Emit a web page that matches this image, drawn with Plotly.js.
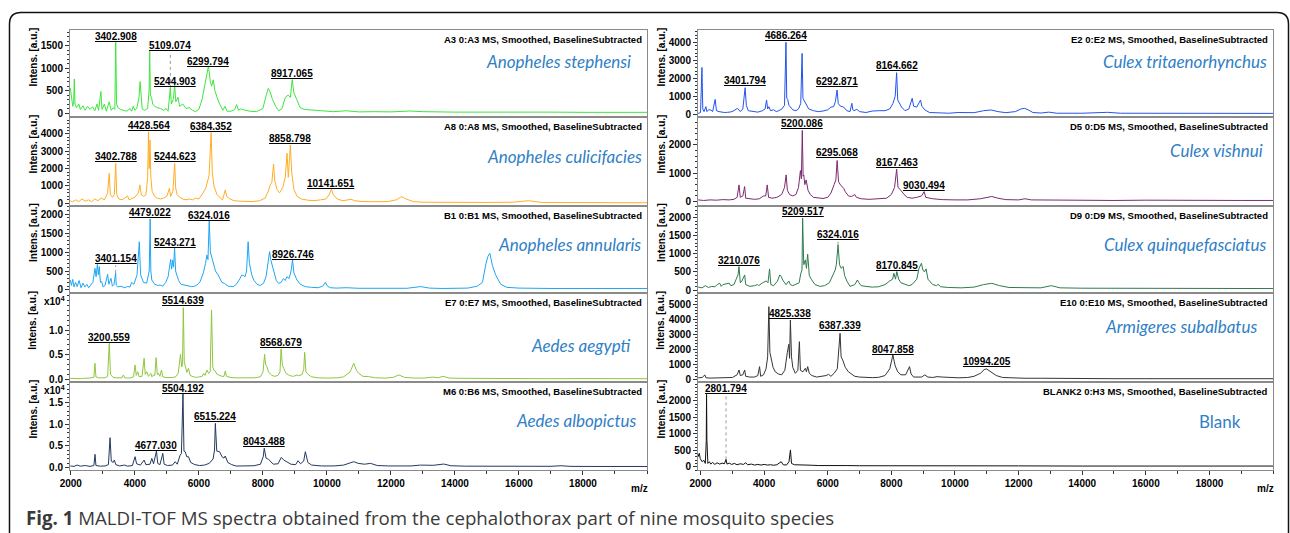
<!DOCTYPE html>
<html><head><meta charset="utf-8">
<script src="https://cdn.plot.ly/plotly-3.0.1.min.js"></script>
<style>body{margin:0;background:#fff}#chart{width:1290px;height:533px}</style>
</head><body><div id="chart"></div>
<script>
// ---------------- DATA (m/z, intensity) ----------------
const stephensi = [[1985,560],[2030,300],[2060,150],[2090,250],[2110,760],[2130,200],[2180,120],[2250,200],[2300,80],[2380,160],[2450,60],[2520,150],[2600,80],[2680,140],[2750,50],[2820,200],[2870,60],[2940,480],[2975,80],[3050,200],[3110,40],[3200,250],[3260,60],[3330,120],[3375,80],[3403,1580],[3430,200],[3470,120],[3550,80],[3650,60],[3750,40],[3850,100],[3900,40],[3950,150],[4000,60],[4060,100],[4130,350],[4165,700],[4195,300],[4230,90],[4300,60],[4400,100],[4445,500],[4465,1380],[4485,400],[4520,350],[4560,200],[4620,150],[4700,120],[4800,100],[4900,60],[4980,100],[5040,40],[5080,300],[5109,560],[5140,200],[5200,300],[5245,620],[5280,250],[5350,350],[5400,150],[5500,200],[5600,100],[5700,120],[5800,60],[5900,30],[6000,80],[6100,300],[6200,700],[6300,1050],[6360,700],[6400,600],[6450,740],[6500,500],[6570,350],[6650,200],[6750,60],[6820,150],[6880,40],[7000,40],[7120,80],[7180,190],[7240,60],[7300,90],[7400,70],[7600,40],[7800,30],[8000,100],[8110,410],[8170,550],[8230,470],[8300,300],[8400,150],[8500,50],[8600,100],[8700,350],[8790,400],[8860,350],[8917,745],[8970,450],[9060,300],[9160,120],[9300,80],[9500,70],[9800,40],[10200,30],[10600,50],[11000,25],[11500,30],[12000,25],[12600,45],[13000,30],[14000,20],[15000,25],[16000,15],[17000,20],[18000,15],[19000,20],[20000,15]];
const culicifacies = [[1985,150],[2050,80],[2150,200],[2250,100],[2350,250],[2450,120],[2550,200],[2650,100],[2750,250],[2850,150],[2950,300],[3050,200],[3150,600],[3200,1730],[3235,500],[3300,350],[3360,500],[3403,2310],[3435,500],[3500,250],[3600,200],[3700,300],[3775,420],[3820,200],[3900,250],[4000,350],[4110,600],[4160,1060],[4200,500],[4280,400],[4350,500],[4400,1500],[4429,4130],[4450,2000],[4475,3650],[4500,1500],[4540,700],[4620,400],[4700,300],[4800,250],[4900,300],[5000,400],[5080,865],[5120,400],[5190,700],[5245,2310],[5275,900],[5320,500],[5400,350],[5500,250],[5600,200],[5700,250],[5800,200],[5900,300],[6000,250],[6100,500],[6220,900],[6320,1600],[6384,4080],[6420,1800],[6470,1000],[6570,500],[6670,300],[6740,200],[6825,770],[6870,400],[6970,250],[7100,150],[7300,120],[7500,100],[7700,100],[7900,150],[8070,300],[8170,700],[8230,1060],[8280,1200],[8335,2270],[8370,1300],[8440,800],[8520,600],[8620,900],[8700,1500],[8755,2885],[8795,1500],[8859,3365],[8900,1800],[8970,800],[9070,400],[9200,250],[9400,180],[9600,150],[9800,200],[9970,250],[10070,500],[10142,810],[10200,500],[10320,250],[10500,150],[10650,200],[10755,230],[10870,150],[11100,100],[11500,90],[11900,100],[12170,200],[12330,385],[12470,250],[12700,100],[13000,60],[13500,50],[14000,60],[14500,40],[15000,50],[15800,60],[16300,150],[16700,50],[17500,50],[18000,30],[19000,40],[20000,30]];
const annularis = [[1985,260],[2020,120],[2060,280],[2100,80],[2150,200],[2200,90],[2260,250],[2320,60],[2380,180],[2440,80],[2500,150],[2560,60],[2620,130],[2690,200],[2755,570],[2790,350],[2830,675],[2860,400],[2890,614],[2925,200],[2965,220],[3010,80],[3070,120],[3150,412],[3190,150],[3255,307],[3300,100],[3350,150],[3401,450],[3420,120],[3470,80],[3570,100],[3670,60],[3770,90],[3850,80],[3900,200],[3970,150],[4070,400],[4140,1270],[4180,400],[4270,200],[4370,180],[4450,500],[4479,1870],[4500,500],[4530,263],[4620,150],[4720,120],[4790,130],[4870,100],[4965,200],[5040,350],[5120,807],[5150,550],[5185,790],[5210,600],[5243,1100],[5275,500],[5310,395],[5370,250],[5440,150],[5540,130],[5620,100],[5720,80],[5780,88],[5870,100],[5970,150],[6040,219],[6140,450],[6210,700],[6250,921],[6285,800],[6324,1845],[6360,1000],[6420,800],[6455,745],[6520,500],[6600,400],[6665,307],[6720,200],[6800,175],[6920,100],[7080,88],[7170,150],[7250,250],[7345,395],[7400,380],[7445,350],[7490,500],[7540,1270],[7580,700],[7655,395],[7720,250],[7820,150],[7920,120],[8020,175],[8100,350],[8170,700],[8210,1010],[8245,800],[8285,658],[8340,450],[8420,250],[8490,175],[8570,200],[8640,300],[8700,250],[8750,350],[8820,300],[8880,500],[8927,790],[8970,450],[9065,263],[9170,150],[9325,88],[9520,70],[9720,60],[9870,100],[9950,200],[10020,100],[10110,60],[10300,50],[10600,60],[11000,45],[11500,50],[12000,40],[12500,45],[12930,90],[13200,50],[13600,40],[14000,45],[14400,50],[14700,100],[14860,200],[14970,700],[15030,880],[15090,966],[15170,650],[15270,400],[15430,150],[15620,70],[16000,50],[17000,40],[18000,45],[19000,40],[20000,40]];
const aegypti = [[1985,200],[2100,150],[2200,250],[2300,120],[2400,200],[2500,150],[2600,250],[2720,400],[2755,3245],[2785,500],[2870,300],[2970,300],[3070,300],[3150,600],[3201,7300],[3240,1000],[3320,400],[3420,300],[3520,350],[3600,300],[3643,880],[3685,300],[3770,250],[3870,300],[3960,500],[4008,2900],[4045,800],[4092,1550],[4135,500],[4225,600],[4290,4260],[4325,1000],[4374,1550],[4425,600],[4499,1200],[4535,500],[4582,880],[4625,800],[4665,4390],[4705,900],[4738,1200],[4785,600],[4832,1890],[4875,500],[4975,350],[5075,300],[5175,350],[5275,500],[5355,1200],[5427,5070],[5465,2500],[5490,3000],[5515,14530],[5545,3500],[5573,2570],[5625,1400],[5677,2230],[5725,800],[5825,500],[5925,400],[6025,500],[6105,600],[6146,1200],[6195,800],[6251,1890],[6305,1200],[6355,1500],[6397,14060],[6435,2500],[6475,1800],[6511,1690],[6565,1000],[6616,880],[6675,700],[6725,600],[6785,600],[6825,1690],[6865,600],[6975,400],[7125,300],[7325,250],[7525,300],[7725,300],[7925,500],[8005,1500],[8055,5070],[8085,3000],[8128,2570],[8175,1500],[8275,800],[8375,600],[8475,800],[8535,1500],[8569,6150],[8610,3000],[8650,2230],[8725,1200],[8825,800],[8925,600],[9005,700],[9067,880],[9125,700],[9225,1000],[9275,2000],[9307,5475],[9345,1500],[9432,880],[9525,500],[9725,300],[10025,250],[10325,300],[10525,500],[10725,1500],[10840,3245],[10925,1800],[10996,1200],[11125,600],[11309,540],[11525,300],[11825,250],[12075,400],[12248,880],[12425,400],[12725,250],[13025,250],[13305,450],[13475,300],[13625,600],[13825,250],[14225,200],[15000,150],[16000,150],[17000,120],[18000,150],[19000,120],[20000,120]];
const albopictus = [[1985,400],[2100,300],[2200,600],[2300,350],[2450,500],[2600,300],[2720,500],[2757,3060],[2785,500],[2925,350],[3075,400],[3175,700],[3226,6885],[3265,1500],[3325,1200],[3362,1760],[3405,700],[3525,400],[3675,600],[3775,350],[3925,500],[4008,2525],[4055,900],[4175,600],[4290,1760],[4345,700],[4475,800],[4530,2140],[4585,900],[4677,3825],[4715,1000],[4785,700],[4874,3290],[4915,800],[5025,500],[5175,600],[5260,1377],[5325,800],[5416,2900],[5455,3200],[5504,17000],[5535,3800],[5573,3670],[5625,2500],[5677,2525],[5745,1200],[5875,700],[6025,500],[6175,600],[6325,1000],[6445,2000],[6490,4055],[6515,10175],[6560,3800],[6647,3670],[6725,2500],[6785,2200],[6825,2680],[6905,1200],[7025,700],[7169,380],[7425,400],[7725,450],[7925,800],[8010,2500],[8043,4440],[8100,2200],[8180,1910],[8325,800],[8475,900],[8576,2370],[8645,1800],[8754,1377],[8875,800],[9025,700],[9098,1600],[9175,900],[9275,1500],[9327,3670],[9405,1200],[9525,600],[9825,400],[10225,400],[10525,600],[10725,1100],[10840,1377],[10975,1000],[11175,800],[11362,995],[11575,500],[11925,400],[12248,380],[12625,400],[12925,600],[13025,610],[13325,550],[13650,840],[13875,450],[14325,350],[15000,300],[16000,300],[17000,320],[17310,450],[17625,300],[18500,280],[19500,300],[20000,280]];
const tritaenorhynchus = [[1925,50],[2000,100],[2044,2600],[2070,300],[2110,150],[2168,425],[2200,150],[2250,250],[2324,240],[2380,150],[2460,830],[2500,200],[2580,150],[2650,120],[2750,100],[2850,110],[2950,130],[3050,200],[3159,333],[3250,150],[3330,300],[3402,1480],[3440,500],[3500,200],[3650,150],[3800,120],[3950,200],[4030,300],[4076,795],[4110,300],[4150,425],[4200,200],[4300,250],[4380,150],[4460,200],[4560,300],[4640,500],[4686,4000],[4710,900],[4740,830],[4780,500],[4840,350],[4900,250],[5000,200],[5080,300],[5150,600],[5193,3385],[5220,890],[5280,700],[5320,520],[5400,300],[5550,200],[5700,150],[5850,180],[6000,250],[6100,400],[6183,425],[6240,700],[6262,890],[6293,1350],[6330,600],[6392,460],[6500,400],[6600,200],[6700,150],[6757,610],[6790,250],[6830,200],[6913,278],[7000,150],[7200,100],[7400,180],[7600,200],[7800,200],[7950,300],[8050,600],[8120,1000],[8165,2312],[8200,800],[8230,700],[8320,400],[8430,200],[8550,300],[8655,890],[8700,450],[8800,400],[8916,795],[8960,450],[9050,250],[9200,100],[9500,80],[9800,60],[10100,100],[10303,110],[10600,90],[10900,200],[11138,240],[11350,150],[11600,90],[11900,150],[12080,300],[12180,333],[12300,250],[12450,100],[12700,70],[12950,120],[13200,60],[14000,60],[14800,110],[15200,60],[16000,55],[17000,50],[18000,55],[19000,50],[20000,50]];
const vishnui = [[1925,60],[2100,40],[2300,60],[2500,50],[2700,70],[2900,60],[3050,80],[3150,150],[3210,590],[3250,150],[3330,200],[3387,530],[3420,120],[3550,90],[3700,80],[3850,100],[3980,200],[4050,200],[4097,590],[4140,150],[4250,120],[4400,150],[4550,250],[4640,500],[4691,944],[4730,400],[4800,250],[4900,200],[5000,250],[5080,500],[5140,1097],[5170,800],[5200,2513],[5225,900],[5245,940],[5280,600],[5320,767],[5380,400],[5450,250],[5550,150],[5700,120],[5850,110],[6000,150],[6100,300],[6200,600],[6255,767],[6295,1451],[6340,700],[6400,590],[6450,520],[6500,470],[6550,350],[6650,200],[6750,180],[6850,250],[6900,150],[7050,100],[7300,80],[7600,90],[7850,120],[8000,250],[8100,500],[8167,1145],[8210,500],[8300,400],[8400,250],[8500,150],[8650,120],[8800,150],[8950,200],[9030,354],[9080,150],[9300,100],[9600,70],[10000,60],[10400,60],[10800,100],[11000,150],[11158,180],[11350,120],[11600,70],[12000,60],[12200,100],[12400,60],[13000,50],[14000,60],[15000,40],[16000,50],[17000,40],[18000,50],[19000,40],[20000,40]];
const quinquefasciatus = [[1925,80],[2050,60],[2150,120],[2250,70],[2350,100],[2450,90],[2540,160],[2605,185],[2650,100],[2700,150],[2800,170],[2900,190],[2950,120],[3050,150],[3120,300],[3179,417],[3210,648],[3250,200],[3300,250],[3387,417],[3420,150],[3550,100],[3700,120],[3790,150],[3830,120],[3950,200],[4065,250],[4120,200],[4170,583],[4210,150],[4300,120],[4420,250],[4490,417],[4530,380],[4600,250],[4690,150],[4775,250],[4820,150],[4900,120],[5000,150],[5100,200],[5150,450],[5190,555],[5210,1990],[5245,700],[5296,833],[5330,600],[5369,990],[5400,500],[5420,400],[5480,300],[5520,250],[5600,150],[5750,100],[5900,120],[6050,200],[6150,400],[6235,555],[6270,700],[6324,1250],[6370,700],[6420,600],[6485,650],[6530,400],[6600,250],[6700,100],[6850,150],[6933,278],[6980,200],[7050,120],[7200,100],[7400,80],[7600,90],[7800,150],[7950,250],[8040,300],[8080,463],[8130,300],[8171,509],[8230,300],[8300,200],[8450,150],[8550,120],[8650,150],[8800,300],[8870,600],[8946,740],[8990,555],[9040,500],[9092,583],[9150,300],[9300,150],[9420,120],[9468,157],[9550,90],[9800,70],[10200,60],[10600,80],[10900,150],[11158,185],[11400,120],[11700,70],[12200,60],[12700,60],[13035,120],[13300,60],[14000,50],[15000,50],[16000,40],[17000,50],[18000,40],[19000,45],[20000,40]];
const subalbatus = [[1925,100],[2050,120],[2136,290],[2170,100],[2300,80],[2450,100],[2600,90],[2800,110],[3000,120],[3150,300],[3210,622],[3250,250],[3330,300],[3387,622],[3420,200],[3550,150],[3700,150],[3800,250],[3856,844],[3890,200],[3980,300],[4060,700],[4110,1500],[4148,4840],[4180,1800],[4220,1300],[4280,800],[4350,500],[4450,350],[4550,300],[4650,600],[4730,1800],[4775,2331],[4800,1400],[4825,3950],[4860,1500],[4900,800],[4980,400],[5060,600],[5108,2509],[5140,600],[5220,500],[5296,733],[5330,500],[5369,844],[5420,400],[5500,250],[5650,150],[5800,200],[5950,250],[6026,333],[6100,200],[6200,400],[6300,700],[6387,3064],[6420,1500],[6470,1288],[6550,800],[6650,500],[6750,350],[6850,200],[7000,150],[7200,120],[7400,110],[7600,130],[7800,250],[7950,700],[8048,1620],[8120,900],[8200,500],[8300,300],[8450,300],[8571,844],[8620,350],[8700,150],[8850,130],[8950,150],[9050,290],[9150,150],[9300,120],[9437,178],[9600,150],[9800,120],[10100,100],[10400,120],[10600,200],[10800,400],[10920,650],[10994,690],[11120,500],[11300,250],[11500,120],[11800,80],[12200,70],[12700,70],[13300,50],[14000,50],[15000,40],[16000,40],[17000,45],[18000,60],[19000,40],[20000,40]];
const blank = [[1920,300],[1960,408],[1990,250],[2050,150],[2100,200],[2150,100],[2180,800],[2189,2200],[2200,816],[2230,100],[2280,150],[2320,80],[2380,130],[2450,70],[2520,120],[2600,80],[2680,110],[2750,90],[2802,224],[2830,80],[2900,110],[2980,70],[3060,100],[3150,60],[3250,90],[3350,70],[3420,122],[3480,60],[3600,80],[3700,50],[3800,70],[3900,50],[4000,70],[4100,50],[4200,60],[4300,45],[4400,60],[4535,153],[4600,60],[4700,50],[4780,150],[4827,510],[4860,100],[4950,60],[5100,50],[5300,40],[5500,45],[5700,35],[6000,40],[6300,30],[6600,35],[7000,30],[8000,25],[9000,30],[10000,25],[12000,25],[14000,20],[16000,25],[18000,20],[20000,20]];

// labelled peaks and the height of their labels (intensity units)
const stephensiPeaks = [3402.908, 5109.074, 5244.903, 6299.794, 8917.065];
const stephensiLabelY = [1703, 1518, 699, 1161, 886];
const culicifaciesPeaks = [3402.788, 4428.564, 5244.623, 6384.352, 8858.798, 10141.651];
const culicifaciesLabelY = [2689, 4518, 2689, 4460, 3750, 1154];
const annularisPeaks = [3401.154, 4479.022, 5243.271, 6324.016, 8926.746];
const annularisLabelY = [834, 2043, 1244, 1973, 947];
const aegyptiPeaks = [3200.559, 5514.639, 8568.679];
const aegyptiLabelY = [8437, 15940, 7504];
const albopictusPeaks = [4677.030, 5504.192, 6515.224, 8043.488];
const albopictusLabelY = [4978, 18214, 11700, 5964];
const tritaenorhynchusPeaks = [3401.794, 4686.264, 6292.871, 8164.662];
const tritaenorhynchusLabelY = [1868, 4370, 1812, 2702];
const vishnuiPeaks = [5200.086, 6295.068, 8167.463, 9030.494];
const vishnuiLabelY = [2764, 1726, 1373, 586];
const quinquefasciatusPeaks = [3210.076, 5209.517, 6324.016, 8170.845];
const quinquefasciatusLabelY = [806, 2160, 1548, 676];
const subalbatusPeaks = [4825.338, 6387.339, 8047.858, 10994.205];
const subalbatusLabelY = [4400, 3573, 2020, 1175];
const blankPeaks = [2801.794];
const blankLabelY = [2391];

const headers = ['A3 0:A3 MS, Smoothed, BaselineSubtracted','A8 0:A8 MS, Smoothed, BaselineSubtracted','B1 0:B1 MS, Smoothed, BaselineSubtracted','E7 0:E7 MS, Smoothed, BaselineSubtracted','M6 0:B6 MS, Smoothed, BaselineSubtracted','E2 0:E2 MS, Smoothed, BaselineSubtracted','D5 0:D5 MS, Smoothed, BaselineSubtracted','D9 0:D9 MS, Smoothed, BaselineSubtracted','E10 0:E10 MS, Smoothed, BaselineSubtracted','BLANK2 0:H3 MS, Smoothed, BaselineSubtracted'];
const speciesNames = ['Anopheles stephensi','Anopheles culicifacies','Anopheles annularis','Aedes aegypti','Aedes albopictus','Culex tritaenorhynchus','Culex vishnui','Culex quinquefasciatus','Armigeres subalbatus','Blank'];
const xTickVals = [2000,4000,6000,8000,10000,12000,14000,16000,18000];
const xTickText = ['2000','4000','6000','8000','10000','12000','14000','16000','18000'];
const yTicks500to1500 = [0,500,1000,1500];
const yTicks0to4000 = [0,1000,2000,3000,4000];
const yTicks500to2000 = [0,500,1000,1500,2000];
const yTicks0to2000 = [0,1000,2000];
const yTicks0to5000 = [0,1000,2000,3000,4000,5000];
const yTicksExp3 = [0,5000,10000];
const yTicksExp3Text = ['0.0','0.5','1.0'];
const yTicksExp4 = [0,5000,10000,15000];
const yTicksExp4Text = ['0.0','0.5','1.0','1.5'];

// ---------------- LAYOUT ----------------
const W = 1290, H = 533;
const rowsPx = [[30,117],[117,205.5],[205.5,293.3],[293.3,382],[382,470]];
const colsPx = [[70,647],[698,1273]];
const xRanges = [[1975,20000],[1920,20000]];

const panels = [
  {d:stephensi, pk:stephensiPeaks, ly:stephensiLabelY, col:0,row:0,color:'#3ce63c',range:[-89,1853],tv:yTicks500to1500,minor:100, sp:[633,61.7]},
  {d:culicifacies, pk:culicifaciesPeaks, ly:culicifaciesLabelY, col:0,row:1,color:'#ffad25',range:[-127,4980],tv:yTicks0to4000,minor:200, sp:[644,156.7]},
  {d:annularis, pk:annularisPeaks, ly:annularisLabelY, col:0,row:2,color:'#1fa6f2',range:[-87,2224],tv:yTicks500to2000,minor:100, sp:[643,245]},
  {d:aegypti, pk:aegyptiPeaks, ly:aegyptiLabelY, col:0,row:3,color:'#8fc63c',range:[-548,17444],tv:yTicksExp3,tt:yTicksExp3Text,minor:1000,exp:true, sp:[633,345]},
  {d:albopictus, pk:albopictusPeaks, ly:albopictusLabelY, col:0,row:4,color:'#23395e',range:[-528,19656],tv:yTicksExp4,tt:yTicksExp4Text,minor:1000,exp:true, sp:[638,420]},
  {d:tritaenorhynchus, pk:tritaenorhynchusPeaks, ly:tritaenorhynchusLabelY, col:1,row:0,color:'#2254ee',range:[-150,4683],tv:yTicks0to4000,minor:200, sp:[1269,61.7]},
  {d:vishnui, pk:vishnuiPeaks, ly:vishnuiLabelY, col:1,row:1,color:'#7c2b70',range:[-138,2989],tv:yTicks0to2000,minor:200, sp:[1265,150.7]},
  {d:quinquefasciatus, pk:quinquefasciatusPeaks, ly:quinquefasciatusLabelY, col:1,row:2,color:'#2f7b4e',range:[-91,2337],tv:yTicks500to2000,minor:100, sp:[1269,245]},
  {d:subalbatus, pk:subalbatusPeaks, ly:subalbatusLabelY, col:1,row:3,color:'#353535',range:[-180,5733],tv:yTicks0to5000,minor:200, sp:[1259,326]},
  {d:blank, pk:blankPeaks, ly:blankLabelY, col:1,row:4,color:'#111111',range:[-100,2578],tv:yTicks500to2000,minor:100, sp:[1243,421], upright:true}
];

const FONT = 'Arial, Liberation Sans, sans-serif';
const TXT = {family:FONT, size:10, color:'#000', weight:700};
const data = [], annotations = [], shapes = [];
const layout = {
  width: W, height: H, margin:{l:0,r:0,t:0,b:0},
  paper_bgcolor:'#ffffff', plot_bgcolor:'#ffffff', showlegend:false,
  font:{family:FONT, size:10, color:'#000'}
};

panels.forEach((p, i) => {
  const n = i + 1;
  const xa = 'xaxis' + (n === 1 ? '' : n), ya = 'yaxis' + (n === 1 ? '' : n);
  const xr = 'x' + (n === 1 ? '' : n), yr = 'y' + (n === 1 ? '' : n);
  const [x0, x1] = colsPx[p.col], [y0, y1] = rowsPx[p.row];
  const bottom = p.row === 4;
  layout[xa] = {
    domain:[x0/W, x1/W], range:xRanges[p.col], anchor:yr,
    showgrid:false, zeroline:false, showline:true, mirror:true, linecolor:'#8a8a8a', linewidth:1,
    ticks: bottom ? 'outside' : '', ticklen:4, tickcolor:'#333', tickwidth:1,
    tickmode:'array', tickvals: bottom ? xTickVals : [], ticktext: bottom ? xTickText : [],
    showticklabels: bottom, tickfont:TXT,
    minor: bottom ? {ticks:'outside', ticklen:3, dtick:1000, tick0:0, tickcolor:'#333'} : {ticks:''}
  };
  layout[ya] = {
    domain:[1 - y1/H, 1 - y0/H], range:p.range, anchor:xr,
    showgrid:false, zeroline:false, showline:true, mirror:true, linecolor:'#8a8a8a', linewidth:1,
    ticks:'outside', ticklen:4, tickcolor:'#333', tickwidth:1,
    tickmode:'array', tickvals:p.tv, ticktext:p.tt ? p.tt : p.tv.map(String),
    tickfont:TXT,
    minor:{ticks:'outside', ticklen:2, dtick:p.minor, tick0:0, tickcolor:'#333'}
  };

  data.push({
    type:'scatter', mode:'lines', xaxis:xr, yaxis:yr,
    x:p.d.map(v => v[0]), y:p.d.map(v => v[1]),
    line:{color:p.color, width:1}, hoverinfo:'skip'
  });

  annotations.push({xref:'paper', yref:'paper', x:(x1-3)/W, y:1-(y0+9.5)/H, xanchor:'right', yanchor:'middle',
    text:headers[i], showarrow:false, font:{family:FONT, size:9.5, color:'#000', weight:700}});
  annotations.push({xref:'paper', yref:'paper', x:p.sp[0]/W, y:1-p.sp[1]/H, xanchor:'right', yanchor:'middle',
    text:speciesNames[i], showarrow:false,
    font:{family:'Lato, Open Sans, sans-serif', size:17, color:'#2f80c6', style: p.upright ? 'normal' : 'italic'}});
  annotations.push({xref:'paper', yref:'paper', x:(x0-37)/W, y:1-(y0+27.5)/H, xanchor:'center', yanchor:'middle',
    text:'Intens. [a.u.]', textangle:-90, showarrow:false, font:{family:FONT, size:10, color:'#000', weight:700}});
  if (p.exp) {
    annotations.push({xref:'paper', yref:'paper', x:(x0-28)/W, y:1-(y0+8)/H, xanchor:'left', yanchor:'middle',
      text:'x10<sup>4</sup>', showarrow:false, font:TXT});
  }
  if (bottom) {
    annotations.push({xref:'paper', yref:'paper', x:(x1-8)/W, y:1-488/H, xanchor:'center', yanchor:'middle',
      text:'m/z', showarrow:false, font:TXT});
  }
  const upp = (p.range[1]-p.range[0]) / (y1 - y0);
  p.pk.forEach((mz, k) => {
    annotations.push({xref:xr, yref:yr, x:mz, y:p.ly[k], xanchor:'center', yanchor:'middle',
      text:'<span style="text-decoration:underline">' + mz.toFixed(3) + '</span>', showarrow:false,
      font:TXT});
    let top = 0;
    p.d.forEach(v => { if (Math.abs(v[0]-mz) < 40 && v[1] > top) top = v[1]; });
    const lb = p.ly[k] - 7*upp;
    if (lb - top > 2*upp) {
      shapes.push({type:'line', xref:xr, yref:yr, x0:mz, x1:mz, y0:top, y1:lb,
        line:{color:'#9a9a9a', width:1, dash:'dot'}});
    }
  });
});

annotations.push({xref:'paper', yref:'paper', x:24/W, y:1-517/H, xanchor:'left', yanchor:'middle', showarrow:false,
  text:'<b>Fig. 1</b> MALDI-TOF MS spectra obtained from the cephalothorax part of nine mosquito species',
  font:{family:'Open Sans, Noto Sans, sans-serif', size:18.7, color:'#3a3a3a'}});

const fx = v => (v/W).toFixed(5), fy = v => (1 - v/H).toFixed(5);
shapes.push({type:'path', xref:'paper', yref:'paper', layer:'above',
  path:`M ${fx(9.5)},${fy(545)} L ${fx(9.5)},${fy(24)} Q ${fx(9.5)},${fy(12.5)} ${fx(21)},${fy(12.5)} L ${fx(1277)},${fy(12.5)} Q ${fx(1288.5)},${fy(12.5)} ${fx(1288.5)},${fy(24)} L ${fx(1288.5)},${fy(545)}`,
  line:{color:'#111', width:1.5}});

layout.annotations = annotations;
layout.shapes = shapes;
Plotly.newPlot('chart', data, layout, {displayModeBar:false, staticPlot:true});
</script>
</body></html>
